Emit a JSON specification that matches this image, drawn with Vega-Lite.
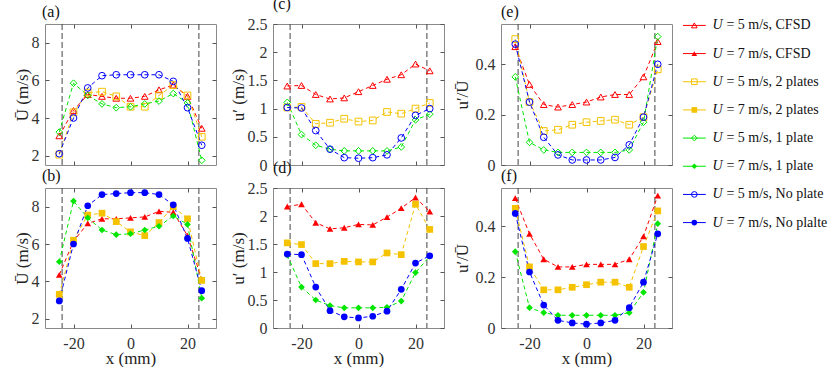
{
  "$schema": "https://vega.github.io/schema/vega-lite/v6.json",
  "padding": {"left": 12, "top": -5, "right": 0, "bottom": 0},
  "background": "white",
  "spacing": 9,
  "datasets": {
    "leg": [
      {"k": "a", "c": "CFSD", "U": 5, "r": "= 5 m/s, CFSD"},
      {"k": "b", "c": "CFSD", "U": 7, "r": "= 7 m/s, CFSD"},
      {"k": "c", "c": "2 plates", "U": 5, "r": "= 5 m/s, 2 plates"},
      {"k": "d", "c": "2 plates", "U": 7, "r": "= 7 m/s, 2 plates"},
      {"k": "e", "c": "1 plate", "U": 5, "r": "= 5 m/s, 1 plate"},
      {"k": "f", "c": "1 plate", "U": 7, "r": "= 7 m/s, 1 plate"},
      {"k": "g", "c": "No plate", "U": 5, "r": "= 5 m/s, No plate"},
      {"k": "h", "c": "No plate", "U": 7, "r": "= 7 m/s, No plalte"}
    ],
    "d": [
      {"p": "g", "x": -24}, {"p": "g", "x": 24},
      {"p":"a","c":"CFSD","x":-25,"v":3.05},{"p":"a","c":"CFSD","x":-20,"v":4.4},{"p":"a","c":"CFSD","x":-15,"v":5.25},{"p":"a","c":"CFSD","x":-10,"v":5.15},{"p":"a","c":"CFSD","x":-5,"v":5.05},{"p":"a","c":"CFSD","x":0,"v":5.05},{"p":"a","c":"CFSD","x":5,"v":5.15},{"p":"a","c":"CFSD","x":10,"v":5.5},{"p":"a","c":"CFSD","x":15,"v":5.75},{"p":"a","c":"CFSD","x":20,"v":5.15},{"p":"a","c":"CFSD","x":25,"v":3.45},
      {"p":"a","c":"2 plates","x":-25,"v":2.05},{"p":"a","c":"2 plates","x":-20,"v":4.3},{"p":"a","c":"2 plates","x":-15,"v":5.35},{"p":"a","c":"2 plates","x":-10,"v":5.4},{"p":"a","c":"2 plates","x":-5,"v":5.15},{"p":"a","c":"2 plates","x":0,"v":4.6},{"p":"a","c":"2 plates","x":5,"v":4.6},{"p":"a","c":"2 plates","x":10,"v":5.2},{"p":"a","c":"2 plates","x":15,"v":5.75},{"p":"a","c":"2 plates","x":20,"v":5.2},{"p":"a","c":"2 plates","x":25,"v":3.0},
      {"p":"a","c":"1 plate","x":-25,"v":3.25},{"p":"a","c":"1 plate","x":-20,"v":5.85},{"p":"a","c":"1 plate","x":-15,"v":5.2},{"p":"a","c":"1 plate","x":-10,"v":4.75},{"p":"a","c":"1 plate","x":-5,"v":4.55},{"p":"a","c":"1 plate","x":0,"v":4.6},{"p":"a","c":"1 plate","x":5,"v":4.75},{"p":"a","c":"1 plate","x":10,"v":4.9},{"p":"a","c":"1 plate","x":15,"v":5.3},{"p":"a","c":"1 plate","x":20,"v":4.8},{"p":"a","c":"1 plate","x":25,"v":1.75},
      {"p":"a","c":"No plate","x":-25,"v":2.1},{"p":"a","c":"No plate","x":-20,"v":4.0},{"p":"a","c":"No plate","x":-15,"v":5.6},{"p":"a","c":"No plate","x":-10,"v":6.25},{"p":"a","c":"No plate","x":-5,"v":6.3},{"p":"a","c":"No plate","x":0,"v":6.3},{"p":"a","c":"No plate","x":5,"v":6.3},{"p":"a","c":"No plate","x":10,"v":6.3},{"p":"a","c":"No plate","x":15,"v":5.95},{"p":"a","c":"No plate","x":20,"v":4.55},{"p":"a","c":"No plate","x":25,"v":2.55},
      {"p":"b","c":"CFSD","x":-25,"v":4.35},{"p":"b","c":"CFSD","x":-20,"v":6.15},{"p":"b","c":"CFSD","x":-15,"v":7.1},{"p":"b","c":"CFSD","x":-10,"v":7.35},{"p":"b","c":"CFSD","x":-5,"v":7.35},{"p":"b","c":"CFSD","x":0,"v":7.4},{"p":"b","c":"CFSD","x":5,"v":7.45},{"p":"b","c":"CFSD","x":10,"v":7.75},{"p":"b","c":"CFSD","x":15,"v":7.7},{"p":"b","c":"CFSD","x":20,"v":6.45},{"p":"b","c":"CFSD","x":25,"v":4.1},
      {"p":"b","c":"2 plates","x":-25,"v":3.3},{"p":"b","c":"2 plates","x":-20,"v":6.2},{"p":"b","c":"2 plates","x":-15,"v":7.55},{"p":"b","c":"2 plates","x":-10,"v":7.65},{"p":"b","c":"2 plates","x":-5,"v":7.2},{"p":"b","c":"2 plates","x":0,"v":6.65},{"p":"b","c":"2 plates","x":5,"v":6.45},{"p":"b","c":"2 plates","x":10,"v":7.15},{"p":"b","c":"2 plates","x":15,"v":8.0},{"p":"b","c":"2 plates","x":20,"v":7.35},{"p":"b","c":"2 plates","x":25,"v":4.05},
      {"p":"b","c":"1 plate","x":-25,"v":5.05},{"p":"b","c":"1 plate","x":-20,"v":8.3},{"p":"b","c":"1 plate","x":-15,"v":7.4},{"p":"b","c":"1 plate","x":-10,"v":6.75},{"p":"b","c":"1 plate","x":-5,"v":6.5},{"p":"b","c":"1 plate","x":0,"v":6.55},{"p":"b","c":"1 plate","x":5,"v":6.75},{"p":"b","c":"1 plate","x":10,"v":6.95},{"p":"b","c":"1 plate","x":15,"v":7.5},{"p":"b","c":"1 plate","x":20,"v":7.05},{"p":"b","c":"1 plate","x":25,"v":3.1},
      {"p":"b","c":"No plate","x":-25,"v":2.95},{"p":"b","c":"No plate","x":-20,"v":6.0},{"p":"b","c":"No plate","x":-15,"v":8.05},{"p":"b","c":"No plate","x":-10,"v":8.65},{"p":"b","c":"No plate","x":-5,"v":8.7},{"p":"b","c":"No plate","x":0,"v":8.75},{"p":"b","c":"No plate","x":5,"v":8.75},{"p":"b","c":"No plate","x":10,"v":8.65},{"p":"b","c":"No plate","x":15,"v":8.1},{"p":"b","c":"No plate","x":20,"v":6.3},{"p":"b","c":"No plate","x":25,"v":3.5},
      {"p":"c","c":"CFSD","x":-25,"v":1.4},{"p":"c","c":"CFSD","x":-20,"v":1.41},{"p":"c","c":"CFSD","x":-15,"v":1.25},{"p":"c","c":"CFSD","x":-10,"v":1.17},{"p":"c","c":"CFSD","x":-5,"v":1.19},{"p":"c","c":"CFSD","x":0,"v":1.3},{"p":"c","c":"CFSD","x":5,"v":1.41},{"p":"c","c":"CFSD","x":10,"v":1.52},{"p":"c","c":"CFSD","x":15,"v":1.6},{"p":"c","c":"CFSD","x":20,"v":1.79},{"p":"c","c":"CFSD","x":25,"v":1.67},
      {"p":"c","c":"2 plates","x":-25,"v":1.02},{"p":"c","c":"2 plates","x":-20,"v":1.03},{"p":"c","c":"2 plates","x":-15,"v":0.73},{"p":"c","c":"2 plates","x":-10,"v":0.75},{"p":"c","c":"2 plates","x":-5,"v":0.82},{"p":"c","c":"2 plates","x":0,"v":0.77},{"p":"c","c":"2 plates","x":5,"v":0.79},{"p":"c","c":"2 plates","x":10,"v":0.94},{"p":"c","c":"2 plates","x":15,"v":0.91},{"p":"c","c":"2 plates","x":20,"v":1.0},{"p":"c","c":"2 plates","x":25,"v":1.1},
      {"p":"c","c":"1 plate","x":-25,"v":1.11},{"p":"c","c":"1 plate","x":-20,"v":0.54},{"p":"c","c":"1 plate","x":-15,"v":0.35},{"p":"c","c":"1 plate","x":-10,"v":0.28},{"p":"c","c":"1 plate","x":-5,"v":0.25},{"p":"c","c":"1 plate","x":0,"v":0.25},{"p":"c","c":"1 plate","x":5,"v":0.25},{"p":"c","c":"1 plate","x":10,"v":0.25},{"p":"c","c":"1 plate","x":15,"v":0.32},{"p":"c","c":"1 plate","x":20,"v":0.8},{"p":"c","c":"1 plate","x":25,"v":0.9},
      {"p":"c","c":"No plate","x":-25,"v":1.02},{"p":"c","c":"No plate","x":-20,"v":1.01},{"p":"c","c":"No plate","x":-15,"v":0.61},{"p":"c","c":"No plate","x":-10,"v":0.28},{"p":"c","c":"No plate","x":-5,"v":0.13},{"p":"c","c":"No plate","x":0,"v":0.12},{"p":"c","c":"No plate","x":5,"v":0.13},{"p":"c","c":"No plate","x":10,"v":0.18},{"p":"c","c":"No plate","x":15,"v":0.48},{"p":"c","c":"No plate","x":20,"v":0.88},{"p":"c","c":"No plate","x":25,"v":1.0},
      {"p":"d","c":"CFSD","x":-25,"v":2.17},{"p":"d","c":"CFSD","x":-20,"v":2.21},{"p":"d","c":"CFSD","x":-15,"v":1.88},{"p":"d","c":"CFSD","x":-10,"v":1.77},{"p":"d","c":"CFSD","x":-5,"v":1.79},{"p":"d","c":"CFSD","x":0,"v":1.85},{"p":"d","c":"CFSD","x":5,"v":1.84},{"p":"d","c":"CFSD","x":10,"v":1.98},{"p":"d","c":"CFSD","x":15,"v":2.14},{"p":"d","c":"CFSD","x":20,"v":2.33},{"p":"d","c":"CFSD","x":25,"v":2.08},
      {"p":"d","c":"2 plates","x":-25,"v":1.52},{"p":"d","c":"2 plates","x":-20,"v":1.49},{"p":"d","c":"2 plates","x":-15,"v":1.15},{"p":"d","c":"2 plates","x":-10,"v":1.15},{"p":"d","c":"2 plates","x":-5,"v":1.19},{"p":"d","c":"2 plates","x":0,"v":1.18},{"p":"d","c":"2 plates","x":5,"v":1.18},{"p":"d","c":"2 plates","x":10,"v":1.34},{"p":"d","c":"2 plates","x":15,"v":1.31},{"p":"d","c":"2 plates","x":20,"v":2.21},{"p":"d","c":"2 plates","x":25,"v":1.76},
      {"p":"d","c":"1 plate","x":-25,"v":1.3},{"p":"d","c":"1 plate","x":-20,"v":0.73},{"p":"d","c":"1 plate","x":-15,"v":0.5},{"p":"d","c":"1 plate","x":-10,"v":0.4},{"p":"d","c":"1 plate","x":-5,"v":0.36},{"p":"d","c":"1 plate","x":0,"v":0.36},{"p":"d","c":"1 plate","x":5,"v":0.36},{"p":"d","c":"1 plate","x":10,"v":0.37},{"p":"d","c":"1 plate","x":15,"v":0.48},{"p":"d","c":"1 plate","x":20,"v":0.99},{"p":"d","c":"1 plate","x":25,"v":1.28},
      {"p":"d","c":"No plate","x":-25,"v":1.32},{"p":"d","c":"No plate","x":-20,"v":1.31},{"p":"d","c":"No plate","x":-15,"v":0.73},{"p":"d","c":"No plate","x":-10,"v":0.31},{"p":"d","c":"No plate","x":-5,"v":0.2},{"p":"d","c":"No plate","x":0,"v":0.18},{"p":"d","c":"No plate","x":5,"v":0.21},{"p":"d","c":"No plate","x":10,"v":0.3},{"p":"d","c":"No plate","x":15,"v":0.69},{"p":"d","c":"No plate","x":20,"v":1.16},{"p":"d","c":"No plate","x":25,"v":1.29},
      {"p":"e","c":"CFSD","x":-25,"v":0.47},{"p":"e","c":"CFSD","x":-20,"v":0.32},{"p":"e","c":"CFSD","x":-15,"v":0.24},{"p":"e","c":"CFSD","x":-10,"v":0.23},{"p":"e","c":"CFSD","x":-5,"v":0.24},{"p":"e","c":"CFSD","x":0,"v":0.25},{"p":"e","c":"CFSD","x":5,"v":0.27},{"p":"e","c":"CFSD","x":10,"v":0.28},{"p":"e","c":"CFSD","x":15,"v":0.28},{"p":"e","c":"CFSD","x":20,"v":0.35},{"p":"e","c":"CFSD","x":25,"v":0.49},
      {"p":"e","c":"2 plates","x":-25,"v":0.5},{"p":"e","c":"2 plates","x":-20,"v":0.25},{"p":"e","c":"2 plates","x":-15,"v":0.135},{"p":"e","c":"2 plates","x":-10,"v":0.14},{"p":"e","c":"2 plates","x":-5,"v":0.16},{"p":"e","c":"2 plates","x":0,"v":0.17},{"p":"e","c":"2 plates","x":5,"v":0.175},{"p":"e","c":"2 plates","x":10,"v":0.18},{"p":"e","c":"2 plates","x":15,"v":0.16},{"p":"e","c":"2 plates","x":20,"v":0.19},{"p":"e","c":"2 plates","x":25,"v":0.38},
      {"p":"e","c":"1 plate","x":-25,"v":0.35},{"p":"e","c":"1 plate","x":-20,"v":0.09},{"p":"e","c":"1 plate","x":-15,"v":0.06},{"p":"e","c":"1 plate","x":-10,"v":0.05},{"p":"e","c":"1 plate","x":-5,"v":0.05},{"p":"e","c":"1 plate","x":0,"v":0.05},{"p":"e","c":"1 plate","x":5,"v":0.05},{"p":"e","c":"1 plate","x":10,"v":0.05},{"p":"e","c":"1 plate","x":15,"v":0.06},{"p":"e","c":"1 plate","x":20,"v":0.17},{"p":"e","c":"1 plate","x":25,"v":0.51},
      {"p":"e","c":"No plate","x":-25,"v":0.48},{"p":"e","c":"No plate","x":-20,"v":0.25},{"p":"e","c":"No plate","x":-15,"v":0.11},{"p":"e","c":"No plate","x":-10,"v":0.04},{"p":"e","c":"No plate","x":-5,"v":0.02},{"p":"e","c":"No plate","x":0,"v":0.02},{"p":"e","c":"No plate","x":5,"v":0.02},{"p":"e","c":"No plate","x":10,"v":0.03},{"p":"e","c":"No plate","x":15,"v":0.08},{"p":"e","c":"No plate","x":20,"v":0.19},{"p":"e","c":"No plate","x":25,"v":0.4},
      {"p":"f","c":"CFSD","x":-25,"v":0.51},{"p":"f","c":"CFSD","x":-20,"v":0.37},{"p":"f","c":"CFSD","x":-15,"v":0.27},{"p":"f","c":"CFSD","x":-10,"v":0.24},{"p":"f","c":"CFSD","x":-5,"v":0.24},{"p":"f","c":"CFSD","x":0,"v":0.25},{"p":"f","c":"CFSD","x":5,"v":0.25},{"p":"f","c":"CFSD","x":10,"v":0.25},{"p":"f","c":"CFSD","x":15,"v":0.27},{"p":"f","c":"CFSD","x":20,"v":0.36},{"p":"f","c":"CFSD","x":25,"v":0.52},
      {"p":"f","c":"2 plates","x":-25,"v":0.47},{"p":"f","c":"2 plates","x":-20,"v":0.24},{"p":"f","c":"2 plates","x":-15,"v":0.15},{"p":"f","c":"2 plates","x":-10,"v":0.15},{"p":"f","c":"2 plates","x":-5,"v":0.16},{"p":"f","c":"2 plates","x":0,"v":0.17},{"p":"f","c":"2 plates","x":5,"v":0.18},{"p":"f","c":"2 plates","x":10,"v":0.18},{"p":"f","c":"2 plates","x":15,"v":0.16},{"p":"f","c":"2 plates","x":20,"v":0.32},{"p":"f","c":"2 plates","x":25,"v":0.46},
      {"p":"f","c":"1 plate","x":-25,"v":0.3},{"p":"f","c":"1 plate","x":-20,"v":0.08},{"p":"f","c":"1 plate","x":-15,"v":0.06},{"p":"f","c":"1 plate","x":-10,"v":0.05},{"p":"f","c":"1 plate","x":-5,"v":0.05},{"p":"f","c":"1 plate","x":0,"v":0.05},{"p":"f","c":"1 plate","x":5,"v":0.05},{"p":"f","c":"1 plate","x":10,"v":0.05},{"p":"f","c":"1 plate","x":15,"v":0.06},{"p":"f","c":"1 plate","x":20,"v":0.14},{"p":"f","c":"1 plate","x":25,"v":0.41},
      {"p":"f","c":"No plate","x":-25,"v":0.45},{"p":"f","c":"No plate","x":-20,"v":0.22},{"p":"f","c":"No plate","x":-15,"v":0.09},{"p":"f","c":"No plate","x":-10,"v":0.03},{"p":"f","c":"No plate","x":-5,"v":0.02},{"p":"f","c":"No plate","x":0,"v":0.015},{"p":"f","c":"No plate","x":5,"v":0.02},{"p":"f","c":"No plate","x":10,"v":0.03},{"p":"f","c":"No plate","x":15,"v":0.08},{"p":"f","c":"No plate","x":20,"v":0.18},{"p":"f","c":"No plate","x":25,"v":0.37}
    ]
  },
  "hconcat": [
    {
      "columns": 3,
      "bounds": "flush",
      "spacing": {"row": 23, "column": 57},
      "concat": [
        {
          "width": 171, "height": 141,
          "title": {"text": "(a)", "dx": -3},
          "data": {"name": "d"},
          "resolve": {"axis": {"x": "independent", "y": "independent"}},
          "layer": [
            {"transform": [{"filter": "datum.p == 'g'"}], "mark": {"type": "rule", "strokeDash": [6, 3], "color": "#444", "strokeWidth": 1},
             "encoding": {"x": {"field": "x", "type": "quantitative", "scale": {"domain": [-30, 30], "nice": false}, "axis": {"orient": "top", "values": [-20, 0, 20], "labels": false, "title": null}}}},
            {"transform": [{"filter": "datum.p == 'a'"}], "mark": {"type": "line", "strokeDash": [4, 3], "strokeWidth": 1},
             "encoding": {"x": {"field": "x", "type": "quantitative", "axis": {"values": [-20, 0, 20], "labels": false, "title": null}},
               "y": {"field": "v", "type": "quantitative", "scale": {"domain": [1.5, 9], "nice": false, "zero": false}, "axis": {"orient": "right", "values": [2, 4, 6, 8], "labels": false, "title": null}},
               "color": {"field": "c", "type": "nominal", "legend": null, "sort": null, "scale": {"domain": ["CFSD", "2 plates", "1 plate", "No plate"], "range": ["#ff0000", "#f5c200", "#00e600", "#0000ff"]}}}},
            {"transform": [{"filter": "datum.p == 'a'"}], "mark": {"type": "point", "filled": false, "size": 45, "strokeWidth": 1, "opacity": 1},
             "encoding": {"x": {"field": "x", "type": "quantitative", "axis": null},
               "y": {"field": "v", "type": "quantitative", "axis": {"values": [2, 4, 6, 8], "title": "Ū (m/s)"}},
               "color": {"field": "c", "type": "nominal", "legend": null, "sort": null},
               "shape": {"field": "c", "type": "nominal", "legend": null, "scale": {"domain": ["CFSD", "2 plates", "1 plate", "No plate"], "range": ["triangle-up", "square", "diamond", "circle"]}}}}
          ]
        },
        {
          "width": 171, "height": 141,
          "title": {"text": "(c)"},
          "data": {"name": "d"},
          "resolve": {"axis": {"x": "independent", "y": "independent"}},
          "layer": [
            {"transform": [{"filter": "datum.p == 'g'"}], "mark": {"type": "rule", "strokeDash": [6, 3], "color": "#444", "strokeWidth": 1},
             "encoding": {"x": {"field": "x", "type": "quantitative", "scale": {"domain": [-30, 30], "nice": false}, "axis": {"orient": "top", "values": [-20, 0, 20], "labels": false, "title": null}}}},
            {"transform": [{"filter": "datum.p == 'c'"}], "mark": {"type": "line", "strokeDash": [4, 3], "strokeWidth": 1},
             "encoding": {"x": {"field": "x", "type": "quantitative", "axis": {"values": [-20, 0, 20], "labels": false, "title": null}},
               "y": {"field": "v", "type": "quantitative", "scale": {"domain": [0, 2.5], "nice": false}, "axis": {"orient": "right", "values": [0, 0.5, 1, 1.5, 2, 2.5], "labels": false, "title": null}},
               "color": {"field": "c", "type": "nominal", "legend": null, "sort": null, "scale": {"domain": ["CFSD", "2 plates", "1 plate", "No plate"], "range": ["#ff0000", "#f5c200", "#00e600", "#0000ff"]}}}},
            {"transform": [{"filter": "datum.p == 'c'"}], "mark": {"type": "point", "filled": false, "size": 45, "strokeWidth": 1, "opacity": 1},
             "encoding": {"x": {"field": "x", "type": "quantitative", "axis": null},
               "y": {"field": "v", "type": "quantitative", "axis": {"values": [0, 0.5, 1, 1.5, 2, 2.5], "format": "~g", "title": "u′ (m/s)"}},
               "color": {"field": "c", "type": "nominal", "legend": null, "sort": null},
               "shape": {"field": "c", "type": "nominal", "legend": null, "scale": {"domain": ["CFSD", "2 plates", "1 plate", "No plate"], "range": ["triangle-up", "square", "diamond", "circle"]}}}}
          ]
        },
        {
          "width": 171, "height": 141,
          "title": {"text": "(e)"},
          "data": {"name": "d"},
          "resolve": {"axis": {"x": "independent", "y": "independent"}},
          "layer": [
            {"transform": [{"filter": "datum.p == 'g'"}], "mark": {"type": "rule", "strokeDash": [6, 3], "color": "#444", "strokeWidth": 1},
             "encoding": {"x": {"field": "x", "type": "quantitative", "scale": {"domain": [-30, 30], "nice": false}, "axis": {"orient": "top", "values": [-20, 0, 20], "labels": false, "title": null}}}},
            {"transform": [{"filter": "datum.p == 'e'"}], "mark": {"type": "line", "strokeDash": [4, 3], "strokeWidth": 1},
             "encoding": {"x": {"field": "x", "type": "quantitative", "axis": {"values": [-20, 0, 20], "labels": false, "title": null}},
               "y": {"field": "v", "type": "quantitative", "scale": {"domain": [0, 0.56], "nice": false}, "axis": {"orient": "right", "values": [0, 0.2, 0.4], "labels": false, "title": null}},
               "color": {"field": "c", "type": "nominal", "legend": null, "sort": null, "scale": {"domain": ["CFSD", "2 plates", "1 plate", "No plate"], "range": ["#ff0000", "#f5c200", "#00e600", "#0000ff"]}}}},
            {"transform": [{"filter": "datum.p == 'e'"}], "mark": {"type": "point", "filled": false, "size": 45, "strokeWidth": 1, "opacity": 1},
             "encoding": {"x": {"field": "x", "type": "quantitative", "axis": null},
               "y": {"field": "v", "type": "quantitative", "axis": {"values": [0, 0.2, 0.4], "format": "~g", "title": "u′/Ū", "titlePadding": 4}},
               "color": {"field": "c", "type": "nominal", "legend": null, "sort": null},
               "shape": {"field": "c", "type": "nominal", "legend": null, "scale": {"domain": ["CFSD", "2 plates", "1 plate", "No plate"], "range": ["triangle-up", "square", "diamond", "circle"]}}}}
          ]
        },
        {
          "width": 171, "height": 140,
          "title": {"text": "(b)", "dx": -3},
          "data": {"name": "d"},
          "resolve": {"axis": {"x": "independent", "y": "independent"}},
          "layer": [
            {"transform": [{"filter": "datum.p == 'g'"}], "mark": {"type": "rule", "strokeDash": [6, 3], "color": "#444", "strokeWidth": 1},
             "encoding": {"x": {"field": "x", "type": "quantitative", "scale": {"domain": [-30, 30], "nice": false}, "axis": {"orient": "top", "values": [-20, 0, 20], "labels": false, "title": null}}}},
            {"transform": [{"filter": "datum.p == 'b'"}], "mark": {"type": "line", "strokeDash": [4, 3], "strokeWidth": 1},
             "encoding": {"x": {"field": "x", "type": "quantitative", "axis": {"values": [-20, 0, 20], "title": "x (mm)", "labelExpr": "'' + datum.value"}},
               "y": {"field": "v", "type": "quantitative", "scale": {"domain": [1.5, 9], "nice": false, "zero": false}, "axis": {"orient": "right", "values": [2, 4, 6, 8], "labels": false, "title": null}},
               "color": {"field": "c", "type": "nominal", "legend": null, "sort": null, "scale": {"domain": ["CFSD", "2 plates", "1 plate", "No plate"], "range": ["#ff0000", "#f5c200", "#00e600", "#0000ff"]}}}},
            {"transform": [{"filter": "datum.p == 'b'"}], "mark": {"type": "point", "filled": true, "size": 45, "opacity": 1},
             "encoding": {"x": {"field": "x", "type": "quantitative", "axis": null},
               "y": {"field": "v", "type": "quantitative", "axis": {"values": [2, 4, 6, 8], "title": "Ū (m/s)"}},
               "color": {"field": "c", "type": "nominal", "legend": null, "sort": null},
               "shape": {"field": "c", "type": "nominal", "legend": null, "scale": {"domain": ["CFSD", "2 plates", "1 plate", "No plate"], "range": ["triangle-up", "square", "diamond", "circle"]}}}}
          ]
        },
        {
          "width": 171, "height": 140,
          "title": {"text": "(d)"},
          "data": {"name": "d"},
          "resolve": {"axis": {"x": "independent", "y": "independent"}},
          "layer": [
            {"transform": [{"filter": "datum.p == 'g'"}], "mark": {"type": "rule", "strokeDash": [6, 3], "color": "#444", "strokeWidth": 1},
             "encoding": {"x": {"field": "x", "type": "quantitative", "scale": {"domain": [-30, 30], "nice": false}, "axis": {"orient": "top", "values": [-20, 0, 20], "labels": false, "title": null}}}},
            {"transform": [{"filter": "datum.p == 'd'"}], "mark": {"type": "line", "strokeDash": [4, 3], "strokeWidth": 1},
             "encoding": {"x": {"field": "x", "type": "quantitative", "axis": {"values": [-20, 0, 20], "title": "x (mm)", "labelExpr": "'' + datum.value"}},
               "y": {"field": "v", "type": "quantitative", "scale": {"domain": [0, 2.5], "nice": false}, "axis": {"orient": "right", "values": [0, 0.5, 1, 1.5, 2, 2.5], "labels": false, "title": null}},
               "color": {"field": "c", "type": "nominal", "legend": null, "sort": null, "scale": {"domain": ["CFSD", "2 plates", "1 plate", "No plate"], "range": ["#ff0000", "#f5c200", "#00e600", "#0000ff"]}}}},
            {"transform": [{"filter": "datum.p == 'd'"}], "mark": {"type": "point", "filled": true, "size": 45, "opacity": 1},
             "encoding": {"x": {"field": "x", "type": "quantitative", "axis": null},
               "y": {"field": "v", "type": "quantitative", "axis": {"values": [0, 0.5, 1, 1.5, 2, 2.5], "format": "~g", "title": "u′ (m/s)"}},
               "color": {"field": "c", "type": "nominal", "legend": null, "sort": null},
               "shape": {"field": "c", "type": "nominal", "legend": null, "scale": {"domain": ["CFSD", "2 plates", "1 plate", "No plate"], "range": ["triangle-up", "square", "diamond", "circle"]}}}}
          ]
        },
        {
          "width": 171, "height": 140,
          "title": {"text": "(f)"},
          "data": {"name": "d"},
          "resolve": {"axis": {"x": "independent", "y": "independent"}},
          "layer": [
            {"transform": [{"filter": "datum.p == 'g'"}], "mark": {"type": "rule", "strokeDash": [6, 3], "color": "#444", "strokeWidth": 1},
             "encoding": {"x": {"field": "x", "type": "quantitative", "scale": {"domain": [-30, 30], "nice": false}, "axis": {"orient": "top", "values": [-20, 0, 20], "labels": false, "title": null}}}},
            {"transform": [{"filter": "datum.p == 'f'"}], "mark": {"type": "line", "strokeDash": [4, 3], "strokeWidth": 1},
             "encoding": {"x": {"field": "x", "type": "quantitative", "axis": {"values": [-20, 0, 20], "title": "x (mm)", "labelExpr": "'' + datum.value"}},
               "y": {"field": "v", "type": "quantitative", "scale": {"domain": [0, 0.55], "nice": false}, "axis": {"orient": "right", "values": [0, 0.2, 0.4], "labels": false, "title": null}},
               "color": {"field": "c", "type": "nominal", "legend": null, "sort": null, "scale": {"domain": ["CFSD", "2 plates", "1 plate", "No plate"], "range": ["#ff0000", "#f5c200", "#00e600", "#0000ff"]}}}},
            {"transform": [{"filter": "datum.p == 'f'"}], "mark": {"type": "point", "filled": true, "size": 45, "opacity": 1},
             "encoding": {"x": {"field": "x", "type": "quantitative", "axis": null},
               "y": {"field": "v", "type": "quantitative", "axis": {"values": [0, 0.2, 0.4], "format": "~g", "title": "u′/Ū", "titlePadding": 4}},
               "color": {"field": "c", "type": "nominal", "legend": null, "sort": null},
               "shape": {"field": "c", "type": "nominal", "legend": null, "scale": {"domain": ["CFSD", "2 plates", "1 plate", "No plate"], "range": ["triangle-up", "square", "diamond", "circle"]}}}}
          ]
        }
      ]
    },
    {
      "width": 147, "height": 200,
      "view": {"stroke": null},
      "data": {"name": "leg"},
      "encoding": {"y": {"field": "k", "type": "nominal", "sort": null, "scale": {"type": "point", "padding": 0.05}, "axis": null}},
      "layer": [
        {"mark": {"type": "rule", "strokeWidth": 1},
         "encoding": {"x": {"datum": 0, "type": "quantitative", "scale": {"domain": [0, 10]}, "axis": null}, "x2": {"datum": 1.55},
           "color": {"field": "c", "type": "nominal", "legend": null, "scale": {"domain": ["CFSD", "2 plates", "1 plate", "No plate"], "range": ["#ff0000", "#f5c200", "#00e600", "#0000ff"]}}}},
        {"transform": [{"filter": "datum.U == 5"}], "mark": {"type": "point", "filled": false, "size": 32, "strokeWidth": 1, "opacity": 1},
         "encoding": {"x": {"datum": 0.77, "type": "quantitative"}, "color": {"field": "c", "type": "nominal", "legend": null},
           "shape": {"field": "c", "type": "nominal", "legend": null, "scale": {"domain": ["CFSD", "2 plates", "1 plate", "No plate"], "range": ["triangle-up", "square", "diamond", "circle"]}}}},
        {"transform": [{"filter": "datum.U == 7"}], "mark": {"type": "point", "filled": true, "size": 32, "opacity": 1},
         "encoding": {"x": {"datum": 0.77, "type": "quantitative"}, "color": {"field": "c", "type": "nominal", "legend": null},
           "shape": {"field": "c", "type": "nominal", "legend": null, "scale": {"domain": ["CFSD", "2 plates", "1 plate", "No plate"], "range": ["triangle-up", "square", "diamond", "circle"]}}}},
        {"mark": {"type": "text", "align": "left", "baseline": "middle", "fontSize": 14, "fontStyle": "italic", "font": "Liberation Serif", "color": "#111"},
         "encoding": {"x": {"datum": 2.0, "type": "quantitative"}, "text": {"value": "U"}}},
        {"mark": {"type": "text", "align": "left", "baseline": "middle", "fontSize": 14, "font": "Liberation Serif", "dx": 14, "color": "#111"},
         "encoding": {"x": {"datum": 2.0, "type": "quantitative"}, "text": {"field": "r"}}}
      ]
    }
  ],
  "config": {
    "font": "Liberation Serif",
    "view": {"stroke": "#8a8a8a", "strokeWidth": 1},
    "axis": {"domain": false, "grid": false, "tickSize": -4, "tickColor": "#555", "labelFont": "Liberation Serif", "labelFontSize": 16, "labelColor": "#333", "titleFont": "Liberation Serif", "titleFontSize": 17, "titleFontWeight": "normal", "titleColor": "#222"},
    "axisX": {"labelPadding": 11, "titlePadding": -1},
    "axisY": {"labelPadding": 10, "titlePadding": 0},
    "title": {"font": "Liberation Serif", "fontSize": 16, "fontWeight": "normal", "anchor": "start", "frame": "group", "offset": 0, "color": "#111"}
  }
}
